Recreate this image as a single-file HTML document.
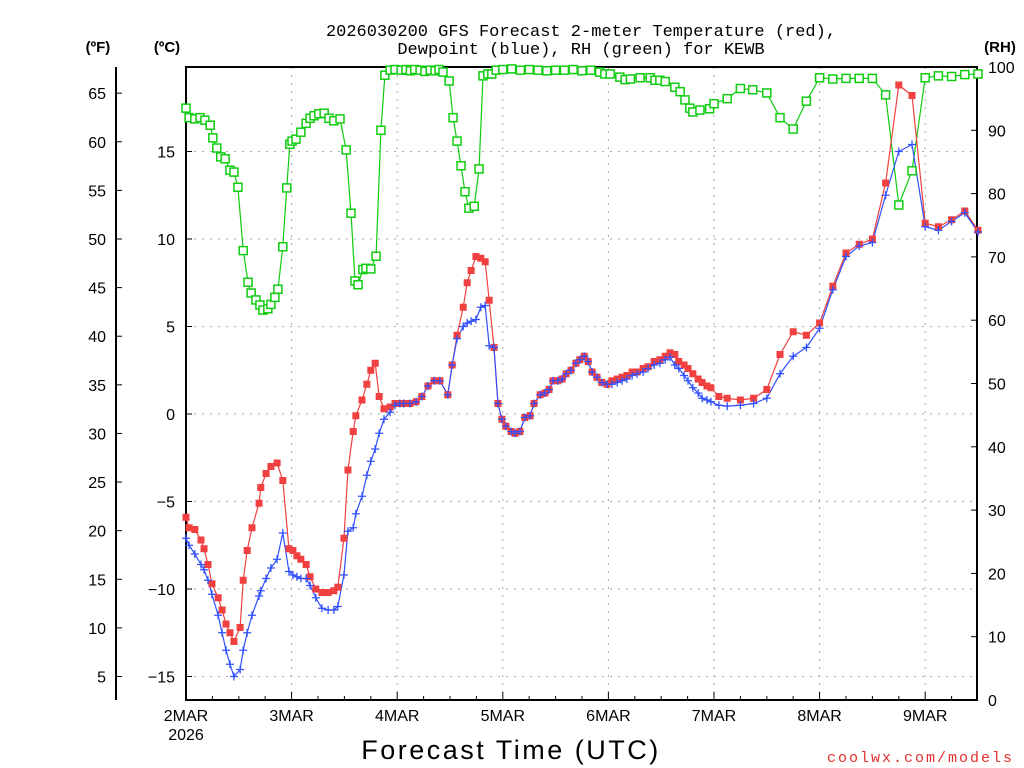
<!DOCTYPE html>
<html><head><meta charset="utf-8"><style>
html,body{margin:0;padding:0;background:#fff;}
svg{display:block;font-family:"Liberation Sans",sans-serif;}
</style></head><body>
<svg id="chart" width="1024" height="768" viewBox="0 0 1024 768">
<text x="581" y="36" text-anchor="middle" font-size="17" font-family="Liberation Mono, monospace">2026030200 GFS Forecast 2-meter Temperature (red),</text>
<text x="581" y="54" text-anchor="middle" font-size="17" font-family="Liberation Mono, monospace">Dewpoint (blue), RH (green) for KEWB</text>
<text x="98" y="52" text-anchor="middle" font-size="15" font-weight="bold">(ºF)</text>
<text x="167" y="52" text-anchor="middle" font-size="15" font-weight="bold">(ºC)</text>
<text x="1000" y="52" text-anchor="middle" font-size="15" font-weight="bold">(RH)</text>
<text x="511" y="759" text-anchor="middle" font-size="27" letter-spacing="2.5">Forecast Time (UTC)</text>
<text x="1014" y="762" text-anchor="end" font-size="15" fill="#e03030" letter-spacing="2" font-family="Liberation Mono, monospace">coolwx.com/models</text>
<g id="grid"></g><g id="axes"></g><g id="series"></g>
</svg>
<script>
const tempHours=[0,0.7,2,3.4,4.1,5,5.9,7.3,8.2,9.1,10,10.9,12.3,13,13.9,15,16.6,17,18.2,19.3,20.7,22,23.4,24.3,25.2,26.1,27.3,28.2,29.5,30.9,32.3,33.6,34.5,35.9,36.8,38,38.6,40,41.1,42,43,43.9,45,46.4,47.5,48.6,49.5,50.9,52.3,53.6,55,56.4,57.7,59.5,60.5,61.6,63,63.9,64.8,65.9,67,68,68.9,70,70.9,71.8,72.7,73.9,74.8,75.9,77,78.2,79.1,80.5,81.6,82.5,83.4,84.5,85.5,86.4,87.5,88.6,89.5,90.5,91.4,92.3,93.4,94.5,95.7,96.8,98,99.1,100.2,101.4,102.5,103.9,105,106.4,107.7,108.9,110,111.1,112,113.2,114.1,115.2,116.4,117.3,118.4,119.3,121.1,123,126,129,132,135,138,141,144,147,150,153,156,159,162,165,168,171,174,177,180];
const tempC=[-5.9,-6.5,-6.6,-7.2,-7.7,-8.6,-9.7,-10.5,-11.2,-12,-12.5,-13,-12.2,-9.5,-7.8,-6.5,-5.1,-4.2,-3.4,-3,-2.8,-3.8,-7.7,-7.8,-8.1,-8.3,-8.6,-9.3,-10,-10.2,-10.2,-10.1,-9.9,-7.1,-3.2,-1,-0.1,0.8,1.7,2.5,2.9,1,0.3,0.4,0.6,0.6,0.6,0.6,0.7,1,1.6,1.9,1.9,1.1,2.8,4.5,6.1,7.5,8.2,9,8.9,8.7,6.5,3.8,0.6,-0.3,-0.7,-1,-1.1,-1,-0.2,-0.1,0.6,1.1,1.2,1.4,1.9,1.9,2,2.3,2.5,2.9,3.1,3.3,3,2.4,2.1,1.8,1.7,1.9,2,2.1,2.2,2.4,2.4,2.6,2.7,3,3.1,3.3,3.5,3.4,3,2.8,2.6,2.3,2,1.8,1.6,1.5,1,0.9,0.8,0.9,1.4,3.4,4.7,4.5,5.2,7.3,9.2,9.7,10,13.2,18.8,18.2,10.9,10.7,11.1,11.6,10.5];
const dewC=[-7.1,-7.5,-8,-8.6,-8.9,-9.5,-10.3,-11.5,-12.5,-13.5,-14.3,-15,-14.6,-13.5,-12.5,-11.5,-10.4,-10.1,-9.4,-8.8,-8.3,-6.8,-9,-9.2,-9.3,-9.4,-9.4,-9.8,-10.5,-11.1,-11.2,-11.2,-11,-9.2,-6.7,-6.5,-5.7,-4.7,-3.5,-2.7,-2,-1.1,-0.3,0.1,0.5,0.6,0.6,0.6,0.7,1,1.6,1.9,1.9,1.1,2.8,4.3,5,5.2,5.3,5.4,6.1,6.2,3.9,3.8,0.6,-0.3,-0.7,-1,-1.1,-1,-0.2,-0.1,0.6,1.1,1.2,1.4,1.9,1.9,2,2.3,2.5,2.9,3.1,3.3,3,2.4,2.1,1.8,1.7,1.7,1.8,1.9,2,2.2,2.3,2.4,2.6,2.8,2.9,3.1,3.25,2.8,2.6,2.2,1.9,1.5,1.2,0.9,0.8,0.7,0.5,0.45,0.5,0.6,0.9,2.3,3.3,3.8,4.9,7.1,9,9.6,9.8,12.5,15,15.4,10.7,10.5,11,11.5,10.4];
const rhHours=[0,0.7,2,3.2,4.3,5.5,6.1,7,7.9,8.9,10,10.9,11.8,13,14.1,14.8,15.9,16.8,17.5,18.6,19.3,20.2,20.9,22,22.9,23.6,24.1,25,26.1,27.3,28.2,29.1,30.2,31.4,32.5,33.6,35,36.4,37.5,38.4,39.1,40.2,40.9,42,43.2,44.3,45.2,46.4,47.5,48.9,50,51,52,53.2,54.3,55.5,56.6,57.5,58.4,59.8,60.7,61.6,62.5,63.4,64.3,65.5,66.6,67.5,68.6,69.5,70.5,72,74,76,78,80,82,84,86,88,90,92,94,95.2,96.4,98.6,99.8,101,103.2,105.5,106.6,107.7,108.9,111.1,112.3,113.4,114.5,115.2,116.8,119,120,123,126,128.8,132,135,138,141,144,147,150,153,156,159,162,165,168,171,174,177,180];
const rhVals=[93.5,92,91.8,92,91.6,90.8,88.8,87.2,85.8,85.5,83.7,83.4,81,71,66,64.3,63.2,62.4,61.6,61.8,62.5,63.6,64.9,71.6,80.9,87.8,88.3,88.6,89.7,91.1,91.9,92.3,92.6,92.7,91.9,91.5,91.8,86.9,76.9,66.2,65.6,68,68.2,68.1,70.1,90,98.7,99.5,99.6,99.5,99.6,99.4,99.6,99.5,99.3,99.5,99.4,99.6,99.2,97.8,92,88.3,84.4,80.3,77.7,78,83.9,98.6,98.9,98.9,99.5,99.6,99.7,99.5,99.6,99.5,99.4,99.5,99.5,99.6,99.4,99.5,99.2,98.9,98.9,98.4,98,98.1,98.3,98.3,97.9,97.9,97.7,96.8,96.1,94.8,93.5,92.9,93.2,93.4,94.2,95,96.6,96.4,95.9,92,90.2,94.6,98.3,98.1,98.2,98.2,98.2,95.6,78.2,83.6,98.3,98.6,98.5,98.8,98.9];
const dayLabels=["2MAR","3MAR","4MAR","5MAR","6MAR","7MAR","8MAR","9MAR"];
const cTicks=[15,10,5,0,-5,-10,-15];
const fTicks=[65,60,55,50,45,40,35,30,25,20,15,10,5];
const rhTicks=[100,90,80,70,60,50,40,30,20,10,0];

const L=186,R=977,T=67,B=700;
const xS=h=>L+h*(105.6/24);
const yC=c=>414-17.5*c;
const yF=f=>yC((f-32)*5/9);
const yRH=r=>B-(B-T)*r/100;
const NS="http://www.w3.org/2000/svg";
function mk(tag,attrs,parent){const e=document.createElementNS(NS,tag);for(const k in attrs)e.setAttribute(k,attrs[k]);parent.appendChild(e);return e;}
const grid=document.getElementById('grid'),axes=document.getElementById('axes'),series=document.getElementById('series');

cTicks.forEach(c=>{
  const g=mk('line',{x1:L,x2:R,y1:yC(c),y2:yC(c),stroke:'#aaa','stroke-dasharray':'2,6'},grid);
  
  
  const t=mk('text',{x:175,y:yC(c)+6,'text-anchor':'end','font-size':16},axes);t.textContent=(c<0?'\u2212'+(-c):c);
  
  
  mk('line',{x1:L,x2:L+6,y1:yC(c),y2:yC(c),stroke:'#000'},axes);
});
dayLabels.forEach((d,i)=>{
  const x=xS(i*24);
  if(i>0){const g=mk('line',{x1:x,x2:x,y1:T,y2:B,stroke:'#aaa','stroke-dasharray':'2,6'},grid);
  
  }
  mk('line',{x1:x,x2:x,y1:B,y2:B-8,stroke:'#000'},axes);
  const t=mk('text',{x:x,y:721,'text-anchor':'middle','font-size':16},axes);t.textContent=d;
  
  
});
for(let h=6;h<180;h+=6){if(h%24)mk('line',{x1:xS(h),x2:xS(h),y1:B,y2:B-4,stroke:'#000'},axes);}
const yr=mk('text',{x:186,y:740,'text-anchor':'middle','font-size':16},axes);yr.textContent='2026';


mk('line',{x1:116,x2:116,y1:67,y2:700,stroke:'#000','stroke-width':2},axes);
fTicks.forEach(f=>{
  mk('line',{x1:116,x2:122,y1:yF(f),y2:yF(f),stroke:'#000'},axes);
  const t=mk('text',{x:106,y:yF(f)+6,'text-anchor':'end','font-size':16},axes);t.textContent=f;
  
  
});
rhTicks.forEach(r=>{
  mk('line',{x1:R,x2:R-6,y1:yRH(r),y2:yRH(r),stroke:'#000'},axes);
  const t=mk('text',{x:988,y:yRH(r)+6,'font-size':16},axes);t.textContent=r;
  
  
});
const fr=mk('rect',{x:L,y:T,width:R-L,height:B-T,fill:'none',stroke:'#000','stroke-width':2},axes);



function line(hs,vs,yf,color,name){
  const p=mk('polyline',{points:hs.map((h,i)=>xS(h)+','+yf(vs[i])).join(' '),fill:'none',stroke:color,'stroke-width':1.2},series);
  
  
}
line(rhHours,rhVals,yRH,'#10cc10','rh-line');
line(tempHours,tempC,yC,'#f04040','temperature-line');
line(tempHours,dewC,yC,'#3050ff','dewpoint-line');
rhHours.forEach((h,i)=>{const m=mk('rect',{x:xS(h)-4,y:yRH(rhVals[i])-4,width:8,height:8,fill:'#fff',stroke:'#10cc10','stroke-width':1.5},series);
  
  });
tempHours.forEach((h,i)=>{const m=mk('rect',{x:xS(h)-3.5,y:yC(tempC[i])-3.5,width:7,height:7,fill:'#f04040'},series);
  
  });
tempHours.forEach((h,i)=>{const x=xS(h),y=yC(dewC[i]);
  const m=mk('path',{d:`M${x-4},${y}H${x+4}M${x},${y-4}V${y+4}`,stroke:'#3050ff','stroke-width':1.3},series);
  
  });
</script>
</body></html>
